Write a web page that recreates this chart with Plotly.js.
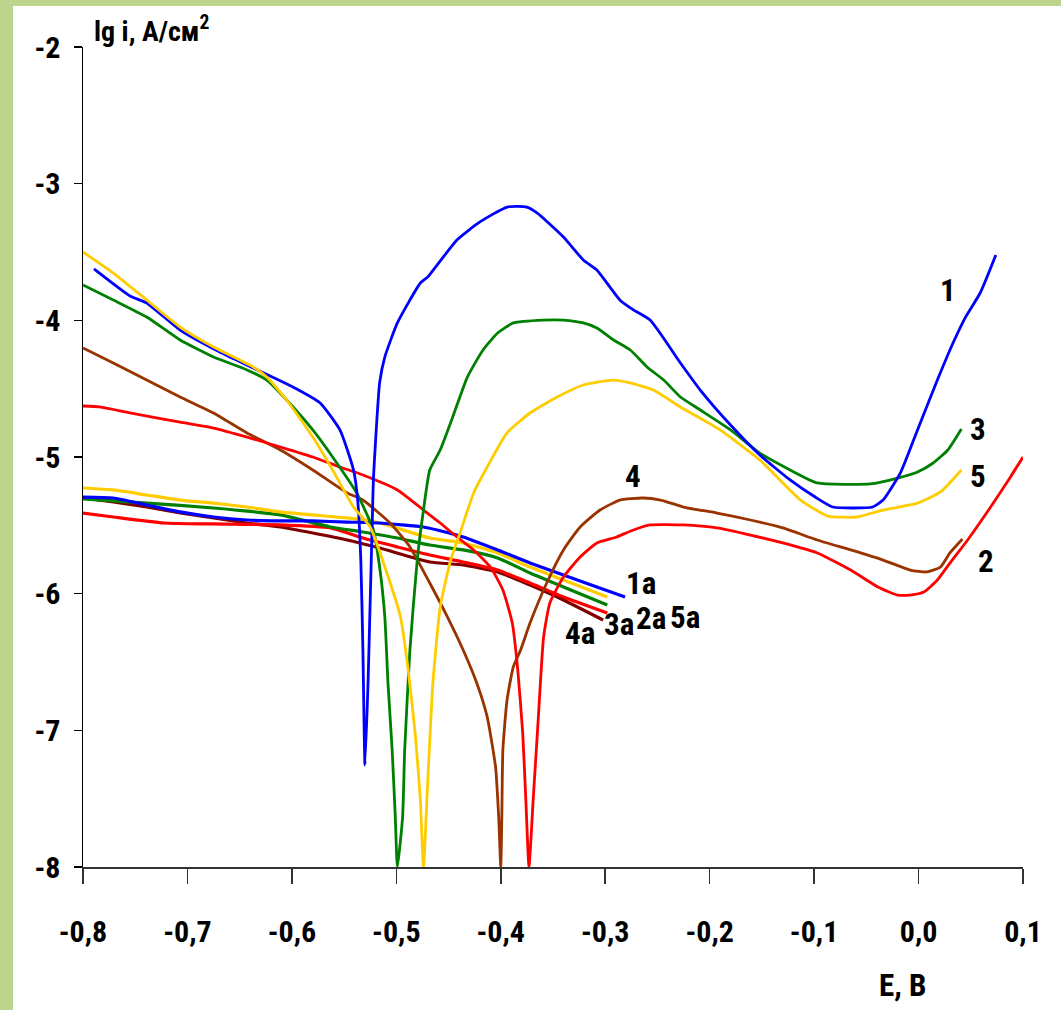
<!DOCTYPE html>
<html><head><meta charset="utf-8">
<script src="https://cdn.plot.ly/plotly-3.0.1.min.js"></script>
<style>
html,body{margin:0;padding:0;background:#fff;}
#wrap{position:relative;width:1061px;height:1010px;background:#fff;}
#gl{position:absolute;left:0;top:0;width:13px;height:1010px;background:#bdd48e;}
#gt{position:absolute;left:0;top:0;width:1061px;height:6px;background:#bdd48e;}
#plot{position:absolute;left:0;top:0;width:1061px;height:1010px;}
</style></head>
<body><div id="wrap"><div id="plot"></div><div id="gl"></div><div id="gt"></div></div>
<script>
// Curve 1 (blue)
const e1 = [-0.7895,-0.755,-0.739,-0.707,-0.669,-0.637,-0.599,-0.573,-0.554,-0.541,-0.537,-0.534,-0.532,-0.530,-0.527,-0.525,-0.523,-0.522,-0.520,-0.516,-0.511,-0.499,-0.477,-0.470,-0.442,-0.420,-0.394,-0.375,-0.365,-0.340,-0.321,-0.308,-0.286,-0.273,-0.257,-0.228,-0.209,-0.180,-0.152,-0.123,-0.099,-0.082,-0.044,-0.034,-0.017,-0.001,0.018,0.033,0.045,0.059,0.074];
const i1 = [-3.624,-3.822,-3.873,-4.071,-4.232,-4.349,-4.488,-4.605,-4.802,-5.095,-5.315,-5.754,-6.412,-7.254,-6.632,-6.046,-5.461,-5.168,-4.898,-4.458,-4.268,-4.019,-3.727,-3.683,-3.412,-3.280,-3.171,-3.171,-3.215,-3.390,-3.558,-3.632,-3.851,-3.924,-3.998,-4.312,-4.510,-4.766,-4.985,-5.168,-5.293,-5.366,-5.366,-5.315,-5.110,-4.802,-4.437,-4.166,-3.976,-3.800,-3.522];
// Curve 2 (red)
const e2 = [-0.8,-0.784,-0.755,-0.707,-0.675,-0.643,-0.611,-0.580,-0.554,-0.532,-0.499,-0.474,-0.458,-0.442,-0.426,-0.410,-0.398,-0.389,-0.384,-0.379,-0.376,-0.373,-0.369,-0.364,-0.359,-0.353,-0.340,-0.324,-0.308,-0.289,-0.273,-0.257,-0.225,-0.193,-0.161,-0.130,-0.097,-0.065,-0.039,-0.020,-0.008,0.005,0.018,0.030,0.047,0.069,0.088,0.100];
const i2 = [-4.627,-4.634,-4.678,-4.744,-4.788,-4.854,-4.927,-5.000,-5.073,-5.132,-5.241,-5.388,-5.483,-5.585,-5.680,-5.805,-5.973,-6.215,-6.536,-7.019,-7.510,-8.0,-7.510,-6.902,-6.317,-6.068,-5.878,-5.732,-5.629,-5.585,-5.534,-5.497,-5.497,-5.519,-5.571,-5.629,-5.702,-5.827,-5.951,-6.010,-6.010,-5.988,-5.900,-5.776,-5.607,-5.366,-5.146,-5.000];
// Curve 3 (green)
const e3 = [-0.8,-0.771,-0.739,-0.707,-0.675,-0.643,-0.624,-0.605,-0.580,-0.561,-0.538,-0.522,-0.516,-0.511,-0.508,-0.504,-0.501,-0.499,-0.494,-0.492,-0.487,-0.480,-0.474,-0.468,-0.458,-0.446,-0.432,-0.417,-0.403,-0.388,-0.359,-0.340,-0.321,-0.308,-0.292,-0.276,-0.260,-0.244,-0.228,-0.209,-0.180,-0.152,-0.123,-0.097,-0.046,-0.020,-0.001,0.014,0.028,0.041];
const i3 = [-3.741,-3.851,-3.976,-4.144,-4.268,-4.363,-4.437,-4.583,-4.802,-5.000,-5.263,-5.534,-5.805,-6.171,-6.654,-7.144,-7.634,-8.0,-7.634,-7.144,-6.412,-5.754,-5.388,-5.095,-4.949,-4.707,-4.415,-4.217,-4.093,-4.019,-3.998,-3.998,-4.019,-4.056,-4.144,-4.217,-4.341,-4.437,-4.561,-4.656,-4.802,-4.971,-5.095,-5.190,-5.197,-5.154,-5.110,-5.044,-4.949,-4.795];
// Curve 4 (brown)
const e4 = [-0.8,-0.771,-0.739,-0.707,-0.675,-0.643,-0.611,-0.580,-0.547,-0.532,-0.506,-0.487,-0.468,-0.451,-0.436,-0.423,-0.413,-0.405,-0.402,-0.400,-0.399,-0.398,-0.394,-0.388,-0.381,-0.372,-0.356,-0.340,-0.324,-0.305,-0.286,-0.264,-0.247,-0.225,-0.193,-0.161,-0.130,-0.097,-0.065,-0.034,-0.008,0.008,0.021,0.030,0.042];
const i4 = [-4.202,-4.312,-4.437,-4.561,-4.678,-4.824,-4.949,-5.095,-5.263,-5.315,-5.483,-5.658,-5.922,-6.171,-6.412,-6.654,-6.902,-7.268,-7.634,-8.0,-7.634,-7.144,-6.778,-6.536,-6.412,-6.215,-5.922,-5.680,-5.512,-5.388,-5.315,-5.300,-5.315,-5.366,-5.410,-5.461,-5.519,-5.607,-5.680,-5.754,-5.827,-5.841,-5.805,-5.702,-5.600];
// Curve 5 (yellow)
const e5 = [-0.8,-0.771,-0.739,-0.707,-0.675,-0.637,-0.624,-0.605,-0.580,-0.561,-0.541,-0.525,-0.509,-0.496,-0.489,-0.482,-0.477,-0.474,-0.470,-0.465,-0.458,-0.448,-0.439,-0.426,-0.413,-0.394,-0.372,-0.346,-0.321,-0.292,-0.276,-0.254,-0.228,-0.190,-0.152,-0.113,-0.087,-0.059,-0.034,-0.001,0.021,0.041];
const i5 = [-3.500,-3.654,-3.851,-4.049,-4.195,-4.341,-4.415,-4.583,-4.854,-5.095,-5.366,-5.512,-5.849,-6.171,-6.536,-7.019,-7.510,-8.0,-7.385,-6.654,-6.097,-5.754,-5.556,-5.263,-5.073,-4.824,-4.678,-4.561,-4.473,-4.437,-4.458,-4.510,-4.634,-4.802,-5.022,-5.315,-5.432,-5.439,-5.388,-5.337,-5.256,-5.095];
// Curves 1a..5a
const e1a = [-0.8,-0.771,-0.739,-0.707,-0.675,-0.643,-0.611,-0.580,-0.547,-0.516,-0.474,-0.461,-0.436,-0.403,-0.372,-0.340,-0.308,-0.281];
const i1a = [-5.293,-5.300,-5.351,-5.402,-5.439,-5.461,-5.468,-5.468,-5.476,-5.483,-5.512,-5.534,-5.585,-5.680,-5.775,-5.863,-5.951,-6.024];
const e2a = [-0.8,-0.771,-0.723,-0.675,-0.611,-0.563,-0.532,-0.499,-0.468,-0.436,-0.403,-0.372,-0.340,-0.298];
const i2a = [-5.410,-5.439,-5.483,-5.490,-5.497,-5.519,-5.593,-5.658,-5.717,-5.768,-5.827,-5.922,-6.024,-6.141];
const e3a = [-0.8,-0.739,-0.675,-0.611,-0.563,-0.532,-0.499,-0.468,-0.436,-0.403,-0.372,-0.340,-0.298];
const i3a = [-5.307,-5.337,-5.373,-5.424,-5.512,-5.549,-5.593,-5.644,-5.680,-5.739,-5.849,-5.951,-6.083];
const e4a = [-0.8,-0.771,-0.739,-0.707,-0.675,-0.643,-0.611,-0.580,-0.547,-0.516,-0.468,-0.436,-0.403,-0.372,-0.340,-0.302];
const i4a = [-5.300,-5.329,-5.366,-5.410,-5.446,-5.483,-5.512,-5.556,-5.607,-5.666,-5.768,-5.790,-5.841,-5.937,-6.046,-6.193];
const e5a = [-0.8,-0.771,-0.739,-0.707,-0.675,-0.643,-0.611,-0.580,-0.547,-0.516,-0.468,-0.436,-0.403,-0.372,-0.340,-0.298];
const i5a = [-5.227,-5.241,-5.278,-5.315,-5.337,-5.366,-5.402,-5.424,-5.446,-5.483,-5.593,-5.629,-5.702,-5.805,-5.900,-6.024];

const xTicks = [-0.8,-0.7,-0.6,-0.5,-0.4,-0.3,-0.2,-0.1,0.0,0.1];
const xTickText = ['-0,8','-0,7','-0,6','-0,5','-0,4','-0,3','-0,2','-0,1','0,0','0,1'];
const yTicks = [-2,-3,-4,-5,-6,-7,-8];
const yTickText = ['-2','-3','-4','-5','-6','-7','-8'];

// curve labels
const labText = ['1','3','5','2','4','1a','4a','3a','2a','5a'];
const labX = [0.0285,0.0573,0.0573,0.065,-0.2732,-0.2655,-0.324,-0.2866,-0.256,-0.2234];
const labY = [-3.785,-4.802,-5.139,-5.768,-5.146,-5.929,-6.295,-6.229,-6.185,-6.178];

const FONT = '"Roboto Condensed","Open Sans",Arial,sans-serif';

function tr(x,y,color,w){return {x:x,y:y,type:'scatter',mode:'lines',line:{color:color,width:w,shape:'spline',smoothing:0.5},hoverinfo:'skip',cliponaxis:true};}
const data = [
  tr(e4a,i4a,'#800000',3.2),
  tr(e2a,i2a,'#ff0000',3.2),
  tr(e3a,i3a,'#008000',3.2),
  tr(e5a,i5a,'#ffcc00',3.2),
  tr(e1a,i1a,'#0000ff',3.2),
  tr(e4,i4,'#993300',2.8),
  tr(e2,i2,'#ff0000',2.8),
  tr(e3,i3,'#008000',2.8),
  tr(e1,i1,'#0000ff',2.8),
  tr(e5,i5,'#ffcc00',2.8)
];

const annotations = labText.map((t,k)=>({x:labX[k],y:labY[k],xref:'x',yref:'y',xanchor:'center',yanchor:'middle',
  text:t,showarrow:false,font:{family:FONT,size:31,color:'#000',weight:'bold'}}));
annotations.push({xref:'paper',yref:'paper',x:0.073,y:1.021,xanchor:'center',yanchor:'middle',
  text:'lg i, A/см<sup>2</sup>',showarrow:false,font:{family:FONT,size:28,color:'#000',weight:'bold'}});
annotations.push({xref:'paper',yref:'paper',x:0.872,y:-0.144,xanchor:'center',yanchor:'middle',
  text:'E, B',showarrow:false,font:{family:FONT,size:31,color:'#000',weight:'bold'}});

const layout = {
  width:1061,height:1010,
  margin:{l:83,r:38,t:47,b:143},
  paper_bgcolor:'rgba(0,0,0,0)',plot_bgcolor:'rgba(0,0,0,0)',
  showlegend:false,
  xaxis:{range:[-0.8,0.1],tickvals:xTicks,ticktext:xTickText,showgrid:false,zeroline:false,
    showline:true,linecolor:'#333',linewidth:2,ticks:'outside',ticklen:15,tickwidth:1.5,tickcolor:'#333',
    tickfont:{family:FONT,size:30,color:'#000',weight:'bold'},ticklabelstandoff:22},
  yaxis:{range:[-8,-2],tickvals:yTicks,ticktext:yTickText,showgrid:false,zeroline:false,
    showline:true,linecolor:'#000',linewidth:1.5,ticks:'outside',ticklen:8,tickwidth:1.5,tickcolor:'#000',
    tickfont:{family:FONT,size:30,color:'#000',weight:'bold'},ticklabelstandoff:7},
  annotations:annotations
};
Plotly.newPlot('plot',data,layout,{staticPlot:true});
</script></body></html>
